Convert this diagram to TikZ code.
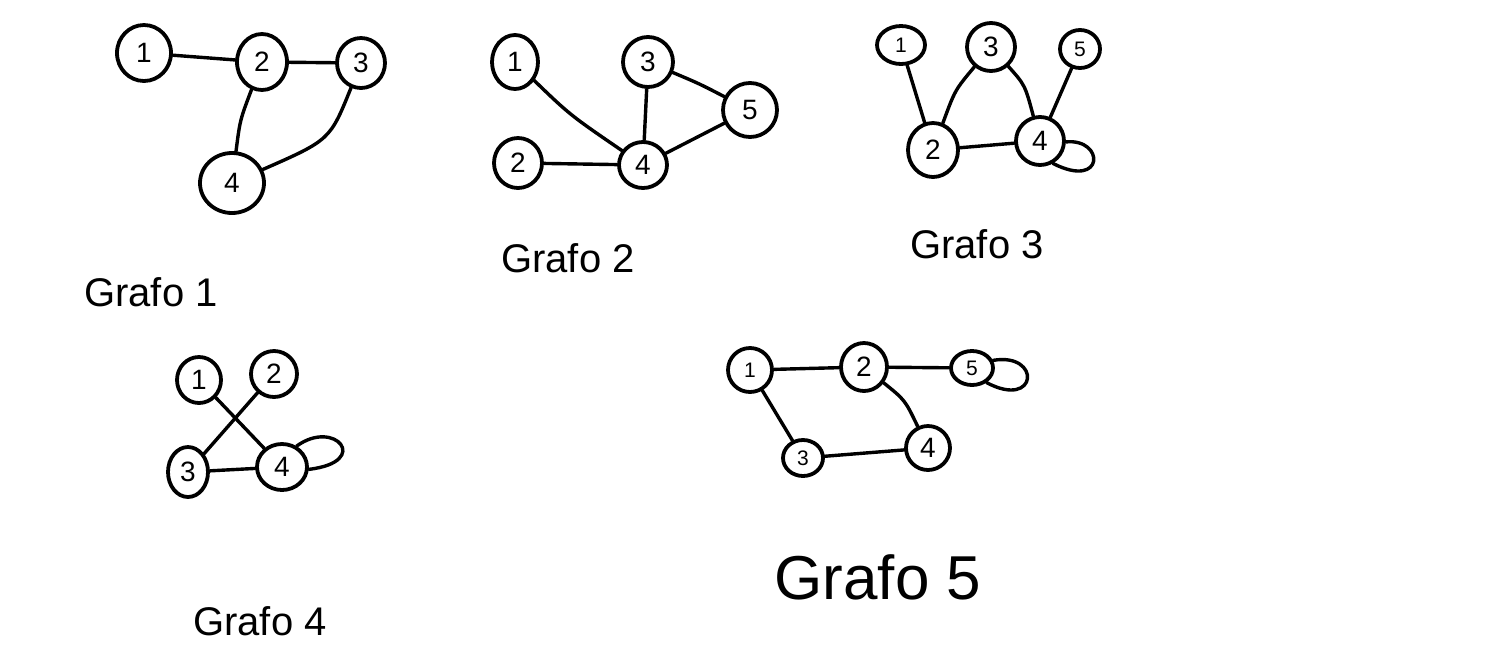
\documentclass[tikz,border=0pt]{standalone}
\usepackage{fontspec}
\setmainfont{Liberation Sans}
\usetikzlibrary{shapes.geometric}
\begin{document}
\begin{tikzpicture}[x=1pt,y=-1pt,
  vtx/.style={ellipse, draw, line width=3.8pt, inner sep=0pt, font=\fontsize{28}{28}\selectfont},
  svtx/.style={vtx, font=\fontsize{21}{21}\selectfont},
  edge/.style={line width=3.4pt, line cap=round},
  lbl/.style={font=\fontsize{40}{40}\selectfont, inner sep=0pt},
  blbl/.style={font=\fontsize{62}{62}\selectfont, inner sep=0pt}]
\useasboundingbox (0,0) rectangle (1504,665);
% Grafo 1
\node[vtx, minimum width=54pt, minimum height=56pt] (a1) at (144,53) {1};
\node[vtx, minimum width=50pt, minimum height=56pt] (a2) at (262,62) {2};
\node[vtx, minimum width=48pt, minimum height=50pt] (a3) at (361,63) {3};
\node[vtx, minimum width=64pt, minimum height=60pt] (a4) at (232,183) {4};
\draw[edge] (a1) -- (a2);
\draw[edge] (a2) -- (a3);
\draw[edge] (a2) .. controls (240,120) .. (a4);
\draw[edge] (a3) .. controls (330,140) .. (a4);
\node[lbl] (la) at (151,292) {Grafo 1};
% Grafo 2
\node[vtx, minimum width=46pt, minimum height=54pt] (b1) at (515,62) {1};
\node[vtx, minimum width=50pt, minimum height=50pt] (b3) at (648,62) {3};
\node[vtx, minimum width=54pt, minimum height=54pt] (b5) at (750,110) {5};
\node[vtx, minimum width=48pt, minimum height=50pt] (b2) at (518,163) {2};
\node[vtx, minimum width=48pt, minimum height=46pt] (b4) at (643,165) {4};
\draw[edge] (b1) .. controls (570,115) .. (b4);
\draw[edge] (b2) -- (b4);
\draw[edge] (b3) -- (b4);
\draw[edge] (b3) .. controls (700,84) .. (b5);
\draw[edge] (b4) -- (b5);
\node[lbl] (lb) at (568,258) {Grafo 2};
% Grafo 3
\node[svtx, minimum width=48pt, minimum height=38pt] (c1) at (901,45) {1};
\node[vtx, minimum width=48pt, minimum height=48pt] (c3) at (991,47) {3};
\node[svtx, minimum width=40pt, minimum height=38pt] (c5) at (1080,49) {5};
\node[vtx, minimum width=50pt, minimum height=54pt] (c2) at (933,150) {2};
\node[vtx, minimum width=48pt, minimum height=48pt] (c4) at (1040,141) {4};
\draw[edge] (c1) -- (c2);
\draw[edge] (c2) .. controls (955,90) .. (c3);
\draw[edge] (c3) .. controls (1025,85) .. (c4);
\draw[edge] (c5) -- (c4);
\draw[edge] (c2) -- (c4);
\draw[edge] (c4.-2) .. controls (1105,138) and (1105,190) .. (c4.-60);
\node[lbl] (lc) at (977,244) {Grafo 3};
% Grafo 4
\node[vtx, minimum width=44pt, minimum height=46pt] (d1) at (199,380) {1};
\node[vtx, minimum width=46pt, minimum height=46pt] (d2) at (274,374) {2};
\node[vtx, minimum width=40pt, minimum height=50pt] (d3) at (188,472) {3};
\node[vtx, minimum width=50pt, minimum height=46pt] (d4) at (282,467) {4};
\draw[edge] (d1) -- (d4);
\draw[edge] (d2) -- (d3);
\draw[edge] (d3) -- (d4);
\draw[edge] (d4.55) .. controls (335,418) and (372,462) .. (d4.-5);
\node[lbl] (ld) at (260,621) {Grafo 4};
% Grafo 5
\node[svtx, minimum width=44pt, minimum height=44pt] (e1) at (750,370) {1};
\node[vtx, minimum width=46pt, minimum height=48pt] (e2) at (864,367) {2};
\node[svtx, minimum width=42pt, minimum height=34pt] (e5) at (972,368) {5};
\node[svtx, minimum width=40pt, minimum height=36pt] (e3) at (803,458) {3};
\node[vtx, minimum width=44pt, minimum height=44pt] (e4) at (928,448) {4};
\draw[edge] (e1) -- (e2);
\draw[edge] (e2) -- (e5);
\draw[edge] (e1) -- (e3);
\draw[edge] (e2) .. controls (905,400) .. (e4);
\draw[edge] (e3) -- (e4);
\draw[edge] (e5.20) .. controls (1042,352) and (1038,410) .. (e5.-45);
\node[blbl] (le) at (878,577) {Grafo 5};
\end{tikzpicture}
\end{document}
